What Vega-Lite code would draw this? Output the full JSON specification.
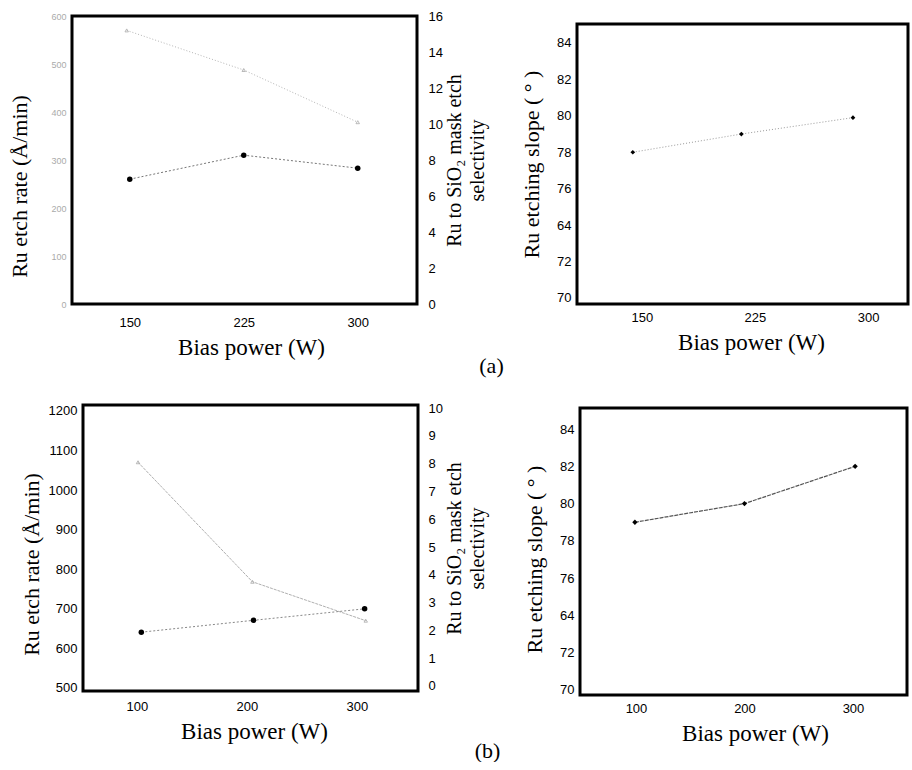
{
  "$schema": "https://vega.github.io/schema/vega-lite/v6.json",
  "padding": {"left": 7, "top": 8, "right": 0, "bottom": 0},
  "background": "white",
  "config": {
    "view": {"stroke": "black", "strokeWidth": 3},
    "axis": {"grid": false, "domain": false, "ticks": false, "labelFont": "Liberation Sans", "labelFontSize": 13, "labelColor": "black", "titleFont": "Liberation Serif", "titleFontSize": 22, "titleFontWeight": "normal", "titleColor": "black"},
    "title": {"font": "Liberation Serif", "fontSize": 22, "fontWeight": "normal", "color": "black"}
  },
  "datasets": {
    "a_rate": [{"power": 150, "rate": 260}, {"power": 225, "rate": 310}, {"power": 300, "rate": 283}],
    "a_sel": [{"power": 148, "selectivity": 15.2}, {"power": 225, "selectivity": 13.0}, {"power": 300, "selectivity": 10.1}],
    "a_slope": [{"power": 144, "slope": 78}, {"power": 216, "slope": 79}, {"power": 290, "slope": 79.9}],
    "b_rate": [{"power": 104, "rate": 641}, {"power": 206, "rate": 671}, {"power": 307, "rate": 700}],
    "b_sel": [{"power": 101, "selectivity": 8.05}, {"power": 205, "selectivity": 3.75}, {"power": 308, "selectivity": 2.35}],
    "b_slope": [{"power": 99, "slope": 79}, {"power": 200, "slope": 80}, {"power": 302, "slope": 82}]
  },
  "spacing": 23,
  "vconcat": [
    {
      "title": {"text": "(a)", "orient": "bottom", "anchor": "middle", "frame": "bounds", "offset": -5, "dx": 33},
      "bounds": "flush",
      "spacing": 160,
      "hconcat": [
        {
          "width": 345, "height": 288,
          "resolve": {"scale": {"y": "independent"}},
          "layer": [
            {
              "data": {"name": "a_sel"},
              "mark": {"type": "line", "color": "#b5b5b5", "strokeWidth": 1, "strokeDash": [1, 2], "point": {"shape": "triangle-up", "filled": false, "color": "#aaa", "size": 12, "strokeWidth": 0.8}},
              "encoding": {
                "x": {"field": "power", "type": "quantitative", "scale": {"domain": [112, 339], "nice": false, "zero": false}, "axis": {"values": [150, 225, 300], "title": "Bias power (W)", "titleFontSize": 23, "labelPadding": 12, "titlePadding": 7, "titleX": 179}},
                "y": {"field": "selectivity", "type": "quantitative", "scale": {"domain": [0, 16], "nice": false}, "axis": {"orient": "right", "values": [0, 2, 4, 6, 8, 10, 12, 14, 16], "title": ["Ru to SiO₂ mask etch", "selectivity"], "titleAngle": 270, "titleBaseline": "top", "titleFontSize": 20, "titleLineHeight": 23, "labelPadding": 11, "titleX": 27}}
              }
            },
            {
              "data": {"name": "a_rate"},
              "mark": {"type": "line", "color": "#777", "strokeWidth": 1, "strokeDash": [2, 2], "point": {"shape": "circle", "filled": true, "color": "black", "size": 30}},
              "encoding": {
                "x": {"field": "power", "type": "quantitative", "scale": {"domain": [112, 339], "nice": false, "zero": false}, "axis": {"values": [150, 225, 300], "title": "Bias power (W)", "titleFontSize": 23, "labelPadding": 12, "titlePadding": 7, "titleX": 179}},
                "y": {"field": "rate", "type": "quantitative", "scale": {"domain": [0, 600], "nice": false}, "axis": {"orient": "left", "values": [0, 100, 200, 300, 400, 500, 600], "title": "Ru etch rate (Å/min)", "labelFontSize": 9, "labelColor": "#aaa", "labelPadding": 6, "titlePadding": 19, "titleY": 170}}
              }
            }
          ]
        },
        {
          "bounds": "flush",
          "spacing": 7,
          "vconcat": [
            {"width": 1, "height": 1, "view": {"stroke": null}, "data": {"values": []}, "mark": "point"},
            {
              "width": 331, "height": 280,
              "data": {"name": "a_slope"},
              "mark": {"type": "line", "color": "#999", "strokeWidth": 1, "strokeDash": [1, 2], "point": {"shape": "diamond", "filled": true, "color": "black", "size": 22}},
              "encoding": {
                "x": {"field": "power", "type": "quantitative", "scale": {"domain": [107, 326.5], "nice": false, "zero": false}, "axis": {"values": [150, 225, 300], "title": "Bias power (W)", "titleFontSize": 23, "labelPadding": 7, "titlePadding": 7, "titleX": 174}},
                "y": {"field": "slope", "type": "quantitative", "scale": {"domain": [69.67, 85.04], "nice": false, "zero": false}, "axis": {"values": [70, 72, 74, 76, 78, 80, 82, 84], "labelExpr": "datum.value == 74 ? '64' : datum.label", "title": "Ru etching slope ( ° )", "labelPadding": 6, "titlePadding": 13}}
              }
            }
          ]
        }
      ]
    },
    {
      "title": {"text": "(b)", "orient": "bottom", "anchor": "middle", "frame": "bounds", "offset": -6, "dx": 24},
      "bounds": "flush",
      "spacing": 10,
      "hconcat": [
        {"width": 1, "height": 1, "view": {"stroke": null}, "data": {"values": []}, "mark": "point"},
        {
          "bounds": "flush",
          "spacing": 162,
          "hconcat": [
            {
              "width": 335, "height": 286,
              "resolve": {"scale": {"y": "independent"}},
              "layer": [
                {
                  "data": {"name": "b_sel"},
                  "mark": {"type": "line", "color": "#b0b0b0", "strokeWidth": 1, "strokeDash": [3, 1], "point": {"shape": "triangle-up", "filled": false, "color": "#aaa", "size": 12, "strokeWidth": 0.8}},
                  "encoding": {
                    "x": {"field": "power", "type": "quantitative", "scale": {"domain": [51, 355.5], "nice": false, "zero": false}, "axis": {"values": [100, 200, 300], "title": "Bias power (W)", "titleFontSize": 23, "labelPadding": 9, "titlePadding": 7, "titleX": 171}},
                    "y": {"field": "selectivity", "type": "quantitative", "scale": {"domain": [-0.18, 10.11], "nice": false, "zero": false}, "axis": {"orient": "right", "values": [0, 1, 2, 3, 4, 5, 6, 7, 8, 9, 10], "title": ["Ru to SiO₂ mask etch", "selectivity"], "titleAngle": 270, "titleBaseline": "top", "titleFontSize": 20, "titleLineHeight": 23, "labelPadding": 10, "titleX": 26}}
                  }
                },
                {
                  "data": {"name": "b_rate"},
                  "mark": {"type": "line", "color": "#888", "strokeWidth": 1, "strokeDash": [2, 2], "point": {"shape": "circle", "filled": true, "color": "black", "size": 30}},
                  "encoding": {
                    "x": {"field": "power", "type": "quantitative", "scale": {"domain": [51, 355.5], "nice": false, "zero": false}, "axis": {"values": [100, 200, 300], "title": "Bias power (W)", "titleFontSize": 23, "labelPadding": 9, "titlePadding": 7, "titleX": 171}},
                    "y": {"field": "rate", "type": "quantitative", "scale": {"domain": [492.4, 1215], "nice": false, "zero": false}, "axis": {"orient": "left", "values": [500, 600, 700, 800, 900, 1000, 1100, 1200], "format": "d", "title": "Ru etch rate (Å/min)", "labelPadding": 6, "titlePadding": 5, "titleY": 159}}
                  }
                }
              ]
            },
            {
              "bounds": "flush",
              "spacing": 2,
              "vconcat": [
                {"width": 1, "height": 1, "view": {"stroke": null}, "data": {"values": []}, "mark": "point"},
                {
                  "width": 327, "height": 287,
                  "data": {"name": "b_slope"},
                  "mark": {"type": "line", "color": "#555", "strokeWidth": 1.2, "strokeDash": [4, 1], "point": {"shape": "diamond", "filled": true, "color": "black", "size": 28}},
                  "encoding": {
                    "x": {"field": "power", "type": "quantitative", "scale": {"domain": [48.4, 349.8], "nice": false, "zero": false}, "axis": {"values": [100, 200, 300], "title": "Bias power (W)", "titleFontSize": 23, "labelPadding": 7, "titlePadding": 7, "titleX": 175}},
                    "y": {"field": "slope", "type": "quantitative", "scale": {"domain": [69.73, 85.13], "nice": false, "zero": false}, "axis": {"values": [70, 72, 74, 76, 78, 80, 82, 84], "labelExpr": "datum.value == 74 ? '64' : datum.label", "title": "Ru etching slope ( ° )", "labelPadding": 6, "titlePadding": 13, "titleY": 151}}
                  }
                }
              ]
            }
          ]
        }
      ]
    }
  ]
}
